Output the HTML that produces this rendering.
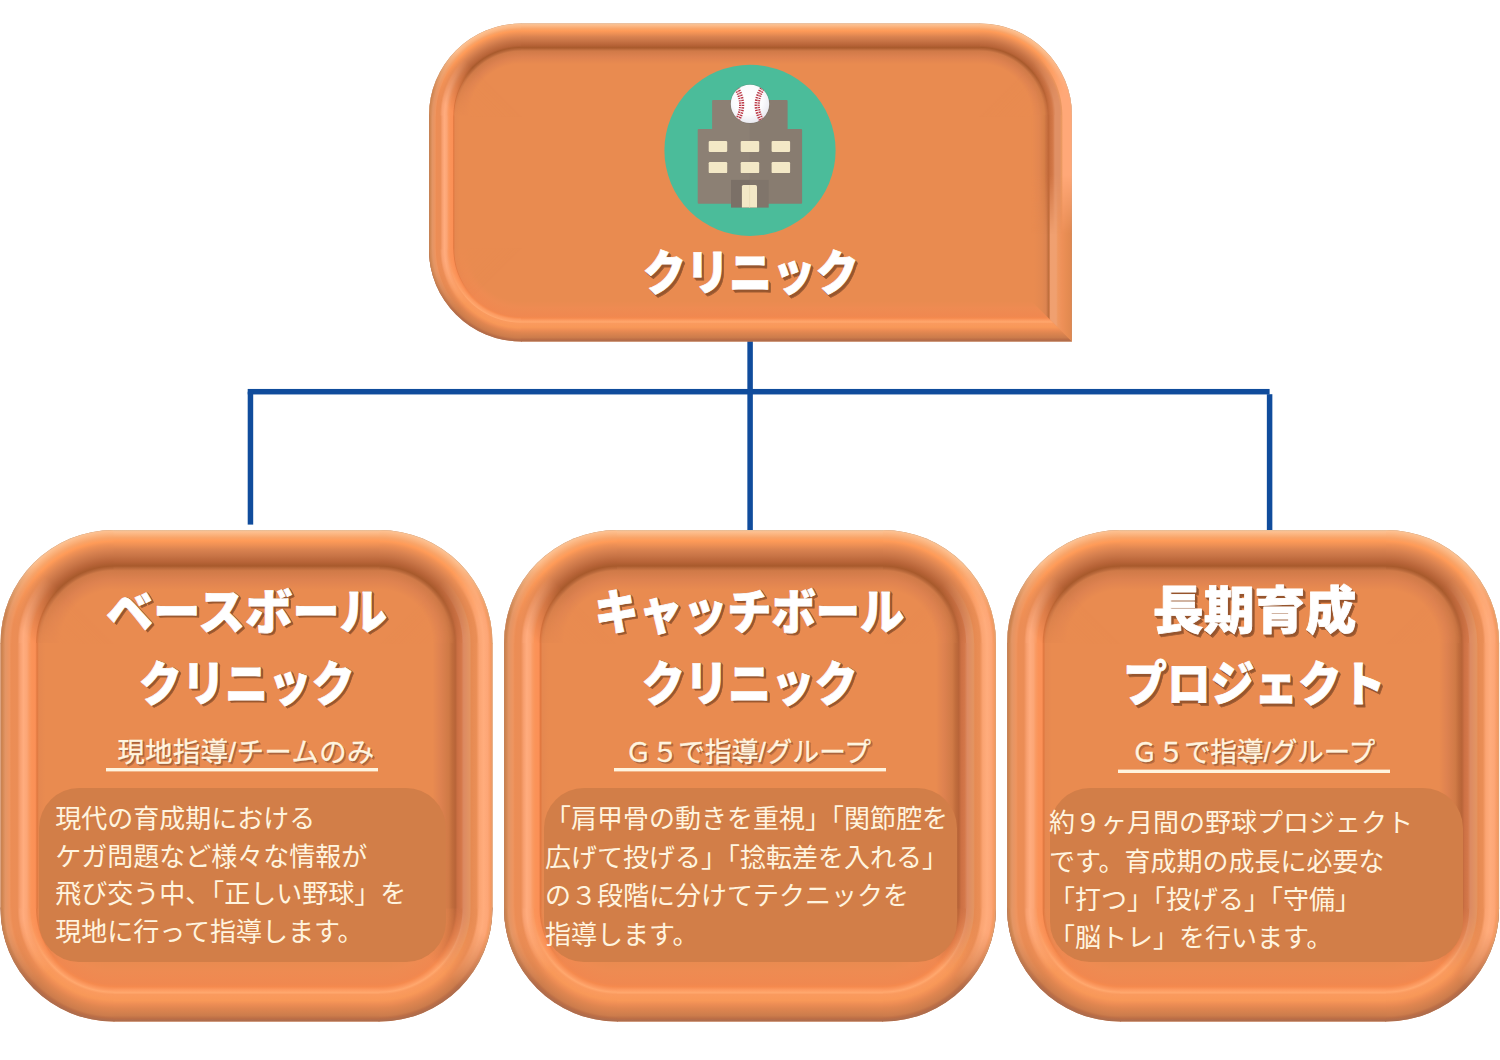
<!DOCTYPE html>
<html lang="ja">
<head>
<meta charset="utf-8">
<title>クリニック</title>
<style>
html,body{margin:0;padding:0;background:#fff}
body{width:1500px;height:1060px;position:relative;overflow:hidden;font-family:"Liberation Sans","Noto Sans CJK JP",sans-serif}
svg{position:absolute;left:0;top:0;display:block}
svg text{font-family:"Liberation Sans","Noto Sans CJK JP",sans-serif}
.hd{font-weight:900;stroke-width:0.8;stroke-linejoin:round}
.sb{font-weight:400;stroke-width:0.35;stroke-linejoin:round}
.bd{font-weight:400;font-size:26px;fill:#FFF4DF}
</style>
</head>
<body>
<svg width="1500" height="1060" viewBox="0 0 1500 1060">
<defs>
<linearGradient id="mgtl" x1="1" y1="0" x2="0" y2="1"><stop offset="0.5" stop-color="#000"/><stop offset="0.85" stop-color="#fff"/></linearGradient>
<mask id="mtl" maskContentUnits="objectBoundingBox"><rect width="1" height="1" fill="url(#mgtl)"/></mask>
<linearGradient id="mgtr" x1="0" y1="0" x2="1" y2="1"><stop offset="0.5" stop-color="#000"/><stop offset="0.85" stop-color="#fff"/></linearGradient>
<mask id="mtr" maskContentUnits="objectBoundingBox"><rect width="1" height="1" fill="url(#mgtr)"/></mask>
<linearGradient id="mgbl" x1="1" y1="1" x2="0" y2="0"><stop offset="0.5" stop-color="#000"/><stop offset="0.85" stop-color="#fff"/></linearGradient>
<mask id="mbl" maskContentUnits="objectBoundingBox"><rect width="1" height="1" fill="url(#mgbl)"/></mask>
<linearGradient id="mgbr" x1="0" y1="1" x2="1" y2="0"><stop offset="0.5" stop-color="#000"/><stop offset="0.85" stop-color="#fff"/></linearGradient>
<mask id="mbr" maskContentUnits="objectBoundingBox"><rect width="1" height="1" fill="url(#mgbr)"/></mask>
<linearGradient id="lt_top" x1="0" y1="0" x2="0" y2="1"><stop offset="0" stop-color="#E3BD98"/><stop offset="0.03" stop-color="#FDC090"/><stop offset="0.08" stop-color="#FBB27C"/><stop offset="0.13" stop-color="#F9A468"/><stop offset="0.18" stop-color="#FF9B58"/><stop offset="0.25" stop-color="#EE9055"/><stop offset="0.33" stop-color="#D98250"/><stop offset="0.43" stop-color="#C87446"/><stop offset="0.53" stop-color="#B86438"/><stop offset="0.6" stop-color="#A85A2C"/><stop offset="0.63" stop-color="#B8683A"/><stop offset="0.68" stop-color="#D07A48"/><stop offset="0.83" stop-color="#DE8250"/><stop offset="1" stop-color="#E98B50"/></linearGradient>
<linearGradient id="lb_bottom" x1="0" y1="1" x2="0" y2="0"><stop offset="0" stop-color="#A86C50"/><stop offset="0.05" stop-color="#BC6E46"/><stop offset="0.1" stop-color="#CC7C4C"/><stop offset="0.22" stop-color="#E08650"/><stop offset="0.28" stop-color="#EC8C54"/><stop offset="0.35" stop-color="#F89858"/><stop offset="0.45" stop-color="#FA9A5E"/><stop offset="0.48" stop-color="#FFA86E"/><stop offset="0.53" stop-color="#FC9A60"/><stop offset="0.58" stop-color="#F58A4E"/><stop offset="0.62" stop-color="#F08850"/><stop offset="0.83" stop-color="#EE8B52"/><stop offset="1" stop-color="#E98B50"/></linearGradient>
<linearGradient id="ll_left" x1="0" y1="0" x2="1" y2="0"><stop offset="0" stop-color="#C08058"/><stop offset="0.03" stop-color="#D08550"/><stop offset="0.08" stop-color="#E39565"/><stop offset="0.15" stop-color="#EE9560"/><stop offset="0.18" stop-color="#EC8D55"/><stop offset="0.28" stop-color="#EB8D56"/><stop offset="0.33" stop-color="#F8A070"/><stop offset="0.38" stop-color="#FFAC7E"/><stop offset="0.44" stop-color="#FCA676"/><stop offset="0.48" stop-color="#FA9A62"/><stop offset="0.52" stop-color="#FB9358"/><stop offset="0.58" stop-color="#FB9056"/><stop offset="0.61" stop-color="#E07840"/><stop offset="0.64" stop-color="#E58850"/><stop offset="0.75" stop-color="#E98B50"/><stop offset="1" stop-color="#E98B50"/></linearGradient>
<linearGradient id="lr_rightB" x1="1" y1="0" x2="0" y2="0"><stop offset="0" stop-color="#C89068"/><stop offset="0.02" stop-color="#E08850"/><stop offset="0.12" stop-color="#E68C52"/><stop offset="0.25" stop-color="#EE9058"/><stop offset="0.35" stop-color="#EF9860"/><stop offset="0.39" stop-color="#F0A070"/><stop offset="0.53" stop-color="#F0A070"/><stop offset="0.55" stop-color="#D88050"/><stop offset="0.58" stop-color="#C0703C"/><stop offset="0.6" stop-color="#C87444"/><stop offset="0.64" stop-color="#DC8450"/><stop offset="0.74" stop-color="#E38850"/><stop offset="0.94" stop-color="#E98B50"/><stop offset="0.99" stop-color="#E98B50"/></linearGradient>
<radialGradient id="rtop92"><stop offset="0.56" stop-color="#E98B50"/><stop offset="0.63" stop-color="#DE8250"/><stop offset="0.7" stop-color="#D07A48"/><stop offset="0.72" stop-color="#B8683A"/><stop offset="0.74" stop-color="#A85A2C"/><stop offset="0.76" stop-color="#B86438"/><stop offset="0.81" stop-color="#C87446"/><stop offset="0.85" stop-color="#D98250"/><stop offset="0.89" stop-color="#EE9055"/><stop offset="0.92" stop-color="#FF9B58"/><stop offset="0.94" stop-color="#F9A468"/><stop offset="0.96" stop-color="#FBB27C"/><stop offset="0.99" stop-color="#FDC090"/><stop offset="1" stop-color="#E3BD98"/></radialGradient>
<radialGradient id="c1" href="#rtop92" gradientUnits="userSpaceOnUse" cx="521" cy="115.5" r="92"/>
<radialGradient id="rleft92"><stop offset="0.56" stop-color="#E98B50"/><stop offset="0.67" stop-color="#E98B50"/><stop offset="0.72" stop-color="#E58850"/><stop offset="0.73" stop-color="#E07840"/><stop offset="0.74" stop-color="#FB9056"/><stop offset="0.77" stop-color="#FB9358"/><stop offset="0.79" stop-color="#FA9A62"/><stop offset="0.81" stop-color="#FCA676"/><stop offset="0.83" stop-color="#FFAC7E"/><stop offset="0.86" stop-color="#F8A070"/><stop offset="0.88" stop-color="#EB8D56"/><stop offset="0.92" stop-color="#EC8D55"/><stop offset="0.93" stop-color="#EE9560"/><stop offset="0.96" stop-color="#E39565"/><stop offset="0.99" stop-color="#D08550"/><stop offset="1" stop-color="#C08058"/></radialGradient>
<radialGradient id="c2" href="#rleft92" gradientUnits="userSpaceOnUse" cx="521" cy="115.5" r="92"/>
<radialGradient id="c3" href="#rtop92" gradientUnits="userSpaceOnUse" cx="980" cy="115.5" r="92"/>
<radialGradient id="rrightT92"><stop offset="0.57" stop-color="#E98B50"/><stop offset="0.64" stop-color="#E28650"/><stop offset="0.7" stop-color="#D88048"/><stop offset="0.73" stop-color="#C87040"/><stop offset="0.74" stop-color="#C06838"/><stop offset="0.76" stop-color="#CA7040"/><stop offset="0.79" stop-color="#D47A4A"/><stop offset="0.82" stop-color="#E09065"/><stop offset="0.87" stop-color="#E09065"/><stop offset="0.89" stop-color="#EA9860"/><stop offset="0.9" stop-color="#FFA878"/><stop offset="0.99" stop-color="#FFA878"/><stop offset="1" stop-color="#E0B090"/></radialGradient>
<radialGradient id="c4" href="#rrightT92" gradientUnits="userSpaceOnUse" cx="980" cy="115.5" r="92"/>
<radialGradient id="rbottom92"><stop offset="0.56" stop-color="#E98B50"/><stop offset="0.63" stop-color="#EE8B52"/><stop offset="0.73" stop-color="#F08850"/><stop offset="0.74" stop-color="#F58A4E"/><stop offset="0.76" stop-color="#FC9A60"/><stop offset="0.79" stop-color="#FFA86E"/><stop offset="0.8" stop-color="#FA9A5E"/><stop offset="0.85" stop-color="#F89858"/><stop offset="0.88" stop-color="#EC8C54"/><stop offset="0.9" stop-color="#E08650"/><stop offset="0.96" stop-color="#CC7C4C"/><stop offset="0.98" stop-color="#BC6E46"/><stop offset="1" stop-color="#A86C50"/></radialGradient>
<radialGradient id="c5" href="#rbottom92" gradientUnits="userSpaceOnUse" cx="521" cy="249.5" r="92"/>
<radialGradient id="c6" href="#rleft92" gradientUnits="userSpaceOnUse" cx="521" cy="249.5" r="92"/>
<linearGradient id="hfade" x1="0" y1="0" x2="0" y2="1"><stop offset="0.5" stop-color="#fff"/><stop offset="1" stop-color="#000"/></linearGradient>
<mask id="mhf" maskContentUnits="objectBoundingBox"><rect width="1" height="1" fill="url(#hfade)"/></mask>
<linearGradient id="lr_rightT" x1="1" y1="0" x2="0" y2="0"><stop offset="0" stop-color="#E0B090"/><stop offset="0.02" stop-color="#FFA878"/><stop offset="0.22" stop-color="#FFA878"/><stop offset="0.26" stop-color="#EA9860"/><stop offset="0.3" stop-color="#E09065"/><stop offset="0.42" stop-color="#E09065"/><stop offset="0.47" stop-color="#D47A4A"/><stop offset="0.54" stop-color="#CA7040"/><stop offset="0.58" stop-color="#C06838"/><stop offset="0.62" stop-color="#C87040"/><stop offset="0.69" stop-color="#D88048"/><stop offset="0.81" stop-color="#E28650"/><stop offset="0.99" stop-color="#E98B50"/></linearGradient>
<linearGradient id="lr_right" x1="1" y1="0" x2="0" y2="0"><stop offset="0" stop-color="#E0A070"/><stop offset="0.03" stop-color="#F69A62"/><stop offset="0.08" stop-color="#FDA676"/><stop offset="0.15" stop-color="#FFAC7C"/><stop offset="0.22" stop-color="#FBA472"/><stop offset="0.27" stop-color="#EA8E56"/><stop offset="0.35" stop-color="#E68A52"/><stop offset="0.38" stop-color="#E39462"/><stop offset="0.48" stop-color="#DC8A62"/><stop offset="0.52" stop-color="#D4784A"/><stop offset="0.58" stop-color="#CC7044"/><stop offset="0.62" stop-color="#B86438"/><stop offset="0.67" stop-color="#C06C3C"/><stop offset="0.73" stop-color="#D07A46"/><stop offset="0.87" stop-color="#DE8250"/><stop offset="1" stop-color="#E98B50"/></linearGradient>
<radialGradient id="rtop113"><stop offset="0.47" stop-color="#E98B50"/><stop offset="0.56" stop-color="#DE8250"/><stop offset="0.64" stop-color="#D07A48"/><stop offset="0.66" stop-color="#B8683A"/><stop offset="0.68" stop-color="#A85A2C"/><stop offset="0.72" stop-color="#B86438"/><stop offset="0.77" stop-color="#C87446"/><stop offset="0.82" stop-color="#D98250"/><stop offset="0.87" stop-color="#EE9055"/><stop offset="0.9" stop-color="#FF9B58"/><stop offset="0.93" stop-color="#F9A468"/><stop offset="0.96" stop-color="#FBB27C"/><stop offset="0.99" stop-color="#FDC090"/><stop offset="1" stop-color="#E3BD98"/></radialGradient>
<radialGradient id="c7" href="#rtop113" gradientUnits="userSpaceOnUse" cx="113.5" cy="643" r="113"/>
<radialGradient id="rleft113"><stop offset="0.47" stop-color="#E98B50"/><stop offset="0.6" stop-color="#E98B50"/><stop offset="0.66" stop-color="#E58850"/><stop offset="0.68" stop-color="#E07840"/><stop offset="0.69" stop-color="#FB9056"/><stop offset="0.73" stop-color="#FB9358"/><stop offset="0.74" stop-color="#FA9A62"/><stop offset="0.77" stop-color="#FCA676"/><stop offset="0.8" stop-color="#FFAC7E"/><stop offset="0.83" stop-color="#F8A070"/><stop offset="0.85" stop-color="#EB8D56"/><stop offset="0.9" stop-color="#EC8D55"/><stop offset="0.92" stop-color="#EE9560"/><stop offset="0.96" stop-color="#E39565"/><stop offset="0.98" stop-color="#D08550"/><stop offset="1" stop-color="#C08058"/></radialGradient>
<radialGradient id="c8" href="#rleft113" gradientUnits="userSpaceOnUse" cx="113.5" cy="643" r="113"/>
<radialGradient id="c9" href="#rtop113" gradientUnits="userSpaceOnUse" cx="379.5" cy="643" r="113"/>
<radialGradient id="rright113"><stop offset="0.47" stop-color="#E98B50"/><stop offset="0.54" stop-color="#DE8250"/><stop offset="0.61" stop-color="#D07A46"/><stop offset="0.65" stop-color="#C06C3C"/><stop offset="0.67" stop-color="#B86438"/><stop offset="0.69" stop-color="#CC7044"/><stop offset="0.73" stop-color="#D4784A"/><stop offset="0.74" stop-color="#DC8A62"/><stop offset="0.8" stop-color="#E39462"/><stop offset="0.81" stop-color="#E68A52"/><stop offset="0.86" stop-color="#EA8E56"/><stop offset="0.88" stop-color="#FBA472"/><stop offset="0.92" stop-color="#FFAC7C"/><stop offset="0.96" stop-color="#FDA676"/><stop offset="0.98" stop-color="#F69A62"/><stop offset="1" stop-color="#E0A070"/></radialGradient>
<radialGradient id="c10" href="#rright113" gradientUnits="userSpaceOnUse" cx="379.5" cy="643" r="113"/>
<radialGradient id="rbottom113"><stop offset="0.47" stop-color="#E98B50"/><stop offset="0.56" stop-color="#EE8B52"/><stop offset="0.67" stop-color="#F08850"/><stop offset="0.69" stop-color="#F58A4E"/><stop offset="0.72" stop-color="#FC9A60"/><stop offset="0.74" stop-color="#FFA86E"/><stop offset="0.76" stop-color="#FA9A5E"/><stop offset="0.81" stop-color="#F89858"/><stop offset="0.85" stop-color="#EC8C54"/><stop offset="0.88" stop-color="#E08650"/><stop offset="0.95" stop-color="#CC7C4C"/><stop offset="0.97" stop-color="#BC6E46"/><stop offset="1" stop-color="#A86C50"/></radialGradient>
<radialGradient id="c11" href="#rbottom113" gradientUnits="userSpaceOnUse" cx="113.5" cy="908.5" r="113"/>
<radialGradient id="c12" href="#rleft113" gradientUnits="userSpaceOnUse" cx="113.5" cy="908.5" r="113"/>
<radialGradient id="c13" href="#rbottom113" gradientUnits="userSpaceOnUse" cx="379.5" cy="908.5" r="113"/>
<radialGradient id="c14" href="#rright113" gradientUnits="userSpaceOnUse" cx="379.5" cy="908.5" r="113"/>
<radialGradient id="c15" href="#rtop113" gradientUnits="userSpaceOnUse" cx="617" cy="643" r="113"/>
<radialGradient id="c16" href="#rleft113" gradientUnits="userSpaceOnUse" cx="617" cy="643" r="113"/>
<radialGradient id="c17" href="#rtop113" gradientUnits="userSpaceOnUse" cx="883" cy="643" r="113"/>
<radialGradient id="c18" href="#rright113" gradientUnits="userSpaceOnUse" cx="883" cy="643" r="113"/>
<radialGradient id="c19" href="#rbottom113" gradientUnits="userSpaceOnUse" cx="617" cy="908.5" r="113"/>
<radialGradient id="c20" href="#rleft113" gradientUnits="userSpaceOnUse" cx="617" cy="908.5" r="113"/>
<radialGradient id="c21" href="#rbottom113" gradientUnits="userSpaceOnUse" cx="883" cy="908.5" r="113"/>
<radialGradient id="c22" href="#rright113" gradientUnits="userSpaceOnUse" cx="883" cy="908.5" r="113"/>
<radialGradient id="c23" href="#rtop113" gradientUnits="userSpaceOnUse" cx="1120.1" cy="643" r="113"/>
<radialGradient id="c24" href="#rleft113" gradientUnits="userSpaceOnUse" cx="1120.1" cy="643" r="113"/>
<radialGradient id="c25" href="#rtop113" gradientUnits="userSpaceOnUse" cx="1386.1" cy="643" r="113"/>
<radialGradient id="c26" href="#rright113" gradientUnits="userSpaceOnUse" cx="1386.1" cy="643" r="113"/>
<radialGradient id="c27" href="#rbottom113" gradientUnits="userSpaceOnUse" cx="1120.1" cy="908.5" r="113"/>
<radialGradient id="c28" href="#rleft113" gradientUnits="userSpaceOnUse" cx="1120.1" cy="908.5" r="113"/>
<radialGradient id="c29" href="#rbottom113" gradientUnits="userSpaceOnUse" cx="1386.1" cy="908.5" r="113"/>
<radialGradient id="c30" href="#rright113" gradientUnits="userSpaceOnUse" cx="1386.1" cy="908.5" r="113"/>
<radialGradient id="ball" cx="0.45" cy="0.4" r="0.65"><stop offset="0" stop-color="#FFFFFF"/><stop offset="0.6" stop-color="#FBFBFD"/><stop offset="1" stop-color="#E6E6EE"/></radialGradient>
<clipPath id="ballclip"><circle cx="750" cy="103.9" r="19.2"/></clipPath>
</defs>
<g fill="#104C9C">
<rect x="247.7" y="388.95" width="1021.9" height="5.5"/>
<rect x="747.35" y="340" width="5.5" height="190.5"/>
<rect x="247.7" y="391.7" width="5.5" height="132.9"/>
<rect x="1266.85" y="394.2" width="5.5" height="135.8"/>
</g>
<g><path d="M521 23.5H980A92 92 0 0 1 1072 115.5V341.5H521A92 92 0 0 1 429 249.5V115.5A92 92 0 0 1 521 23.5Z" fill="#E98B50"/><path d="M522 116.5L522 23.5L521 23.5A92 92 0 0 0 429 115.5L429 116.5Z" fill="url(#c1)"/><path d="M522 116.5L522 23.5L521 23.5A92 92 0 0 0 429 115.5L429 116.5Z" fill="url(#c2)" mask="url(#mtl)"/><path d="M979 116.5L979 23.5L980 23.5A92 92 0 0 1 1072 115.5L1072 116.5Z" fill="url(#c3)"/><path d="M979 116.5L979 23.5L980 23.5A92 92 0 0 1 1072 115.5L1072 116.5Z" fill="url(#c4)" mask="url(#mtr)"/><path d="M522 248.5L522 341.5L521 341.5A92 92 0 0 1 429 249.5L429 248.5Z" fill="url(#c5)"/><path d="M522 248.5L522 341.5L521 341.5A92 92 0 0 1 429 249.5L429 248.5Z" fill="url(#c6)" mask="url(#mbl)"/><path d="M521 23.5L980 23.5L980 64.04L521 64.04Z" fill="url(#lt_top)"/><path d="M521 341.5L1072 341.5L1031.46 300.96L521 300.96Z" fill="url(#lb_bottom)"/><path d="M429 115.5L429 249.5L469.54 249.5L469.54 115.5Z" fill="url(#ll_left)"/><path d="M1072 115.5L1072 341.5L1031.46 300.96L1031.46 115.5Z" fill="url(#lr_rightB)"/></g>
<rect x="1031.46" y="115" width="40.54" height="119.5" fill="url(#lr_rightT)" mask="url(#mhf)"/>
<g><path d="M113.5 530H379.5A113 113 0 0 1 492.5 643V908.5A113 113 0 0 1 379.5 1021.5H113.5A113 113 0 0 1 0.5 908.5V643A113 113 0 0 1 113.5 530Z" fill="#E98B50"/><path d="M114.5 644L114.5 530L113.5 530A113 113 0 0 0 0.5 643L0.5 644Z" fill="url(#c7)"/><path d="M114.5 644L114.5 530L113.5 530A113 113 0 0 0 0.5 643L0.5 644Z" fill="url(#c8)" mask="url(#mtl)"/><path d="M378.5 644L378.5 530L379.5 530A113 113 0 0 1 492.5 643L492.5 644Z" fill="url(#c9)"/><path d="M378.5 644L378.5 530L379.5 530A113 113 0 0 1 492.5 643L492.5 644Z" fill="url(#c10)" mask="url(#mtr)"/><path d="M114.5 907.5L114.5 1021.5L113.5 1021.5A113 113 0 0 1 0.5 908.5L0.5 907.5Z" fill="url(#c11)"/><path d="M114.5 907.5L114.5 1021.5L113.5 1021.5A113 113 0 0 1 0.5 908.5L0.5 907.5Z" fill="url(#c12)" mask="url(#mbl)"/><path d="M378.5 907.5L378.5 1021.5L379.5 1021.5A113 113 0 0 0 492.5 908.5L492.5 907.5Z" fill="url(#c13)"/><path d="M378.5 907.5L378.5 1021.5L379.5 1021.5A113 113 0 0 0 492.5 908.5L492.5 907.5Z" fill="url(#c14)" mask="url(#mbr)"/><path d="M113.5 530L379.5 530L379.5 590L113.5 590Z" fill="url(#lt_top)"/><path d="M113.5 1021.5L379.5 1021.5L379.5 961.5L113.5 961.5Z" fill="url(#lb_bottom)"/><path d="M0.5 643L0.5 908.5L60.5 908.5L60.5 643Z" fill="url(#ll_left)"/><path d="M492.5 643L492.5 908.5L432.5 908.5L432.5 643Z" fill="url(#lr_right)"/></g>
<rect x="39" y="788" width="407" height="174" rx="40" fill="#D27E48"/>
<rect x="106" y="768" width="272" height="3.4" fill="#FFF4DF"/>
<g><path d="M617 530H883A113 113 0 0 1 996 643V908.5A113 113 0 0 1 883 1021.5H617A113 113 0 0 1 504 908.5V643A113 113 0 0 1 617 530Z" fill="#E98B50"/><path d="M618 644L618 530L617 530A113 113 0 0 0 504 643L504 644Z" fill="url(#c15)"/><path d="M618 644L618 530L617 530A113 113 0 0 0 504 643L504 644Z" fill="url(#c16)" mask="url(#mtl)"/><path d="M882 644L882 530L883 530A113 113 0 0 1 996 643L996 644Z" fill="url(#c17)"/><path d="M882 644L882 530L883 530A113 113 0 0 1 996 643L996 644Z" fill="url(#c18)" mask="url(#mtr)"/><path d="M618 907.5L618 1021.5L617 1021.5A113 113 0 0 1 504 908.5L504 907.5Z" fill="url(#c19)"/><path d="M618 907.5L618 1021.5L617 1021.5A113 113 0 0 1 504 908.5L504 907.5Z" fill="url(#c20)" mask="url(#mbl)"/><path d="M882 907.5L882 1021.5L883 1021.5A113 113 0 0 0 996 908.5L996 907.5Z" fill="url(#c21)"/><path d="M882 907.5L882 1021.5L883 1021.5A113 113 0 0 0 996 908.5L996 907.5Z" fill="url(#c22)" mask="url(#mbr)"/><path d="M617 530L883 530L883 590L617 590Z" fill="url(#lt_top)"/><path d="M617 1021.5L883 1021.5L883 961.5L617 961.5Z" fill="url(#lb_bottom)"/><path d="M504 643L504 908.5L564 908.5L564 643Z" fill="url(#ll_left)"/><path d="M996 643L996 908.5L936 908.5L936 643Z" fill="url(#lr_right)"/></g>
<rect x="544" y="788" width="413" height="174" rx="40" fill="#D27E48"/>
<rect x="614" y="768" width="272" height="3.4" fill="#FFF4DF"/>
<g><path d="M1120.1 530H1386.1A113 113 0 0 1 1499.1 643V908.5A113 113 0 0 1 1386.1 1021.5H1120.1A113 113 0 0 1 1007.1 908.5V643A113 113 0 0 1 1120.1 530Z" fill="#E98B50"/><path d="M1121.1 644L1121.1 530L1120.1 530A113 113 0 0 0 1007.1 643L1007.1 644Z" fill="url(#c23)"/><path d="M1121.1 644L1121.1 530L1120.1 530A113 113 0 0 0 1007.1 643L1007.1 644Z" fill="url(#c24)" mask="url(#mtl)"/><path d="M1385.1 644L1385.1 530L1386.1 530A113 113 0 0 1 1499.1 643L1499.1 644Z" fill="url(#c25)"/><path d="M1385.1 644L1385.1 530L1386.1 530A113 113 0 0 1 1499.1 643L1499.1 644Z" fill="url(#c26)" mask="url(#mtr)"/><path d="M1121.1 907.5L1121.1 1021.5L1120.1 1021.5A113 113 0 0 1 1007.1 908.5L1007.1 907.5Z" fill="url(#c27)"/><path d="M1121.1 907.5L1121.1 1021.5L1120.1 1021.5A113 113 0 0 1 1007.1 908.5L1007.1 907.5Z" fill="url(#c28)" mask="url(#mbl)"/><path d="M1385.1 907.5L1385.1 1021.5L1386.1 1021.5A113 113 0 0 0 1499.1 908.5L1499.1 907.5Z" fill="url(#c29)"/><path d="M1385.1 907.5L1385.1 1021.5L1386.1 1021.5A113 113 0 0 0 1499.1 908.5L1499.1 907.5Z" fill="url(#c30)" mask="url(#mbr)"/><path d="M1120.1 530L1386.1 530L1386.1 590L1120.1 590Z" fill="url(#lt_top)"/><path d="M1120.1 1021.5L1386.1 1021.5L1386.1 961.5L1120.1 961.5Z" fill="url(#lb_bottom)"/><path d="M1007.1 643L1007.1 908.5L1067.1 908.5L1067.1 643Z" fill="url(#ll_left)"/><path d="M1499.1 643L1499.1 908.5L1439.1 908.5L1439.1 643Z" fill="url(#lr_right)"/></g>
<rect x="1050" y="788" width="413" height="174" rx="40" fill="#D27E48"/>
<rect x="1118" y="769.6" width="272" height="3.4" fill="#FFF4DF"/>
<g><circle cx="750" cy="150.4" r="85.6" fill="#4BBC9A"/><path d="M713.1 100.1H750.6V203.7H698.7a1 1 0 0 1-1-1V130a1 1 0 0 1 1-1H712.1V101.1a1 1 0 0 1 1-1Z" fill="#8C8074"/><path d="M749.7 100.1H786.6a1 1 0 0 1 1 1V129H801.1a1 1 0 0 1 1 1V202.7a1 1 0 0 1-1 1H749.7Z" fill="#887C70"/><rect x="708.7" y="140.9" width="18.5" height="11.1" rx="1.2" fill="#F3E8C6"/><rect x="740.7" y="140.9" width="18.5" height="11.1" rx="1.2" fill="#F3E8C6"/><rect x="771.6" y="140.9" width="18.5" height="11.1" rx="1.2" fill="#F3E8C6"/><rect x="708.7" y="162" width="18.5" height="11.1" rx="1.2" fill="#F3E8C6"/><rect x="740.7" y="162" width="18.5" height="11.1" rx="1.2" fill="#F3E8C6"/><rect x="771.6" y="162" width="18.5" height="11.1" rx="1.2" fill="#F3E8C6"/><rect x="731" y="179.9" width="19.6" height="27.7" fill="#7B7067"/><rect x="749.7" y="179.9" width="19" height="27.7" fill="#80756B"/><path d="M741.9 207.6V186.5a1.5 1.5 0 0 1 1.5-1.5H755.5a1.5 1.5 0 0 1 1.5 1.5V207.6Z" fill="#F3E8C6"/><rect x="749.2" y="185" width="0.9" height="22.6" fill="#E9DDB9"/><circle cx="750" cy="103.9" r="19.9" fill="#6E6A66" fill-opacity="0.28"/><circle cx="750" cy="103.9" r="19.2" fill="url(#ball)"/><g clip-path="url(#ballclip)" fill="none" stroke="#B8303E" stroke-width="5.2" stroke-dasharray="1.3 1.15"><path d="M735.2 86.5Q747.6 103.8 736.2 122.5"/><path d="M763.9 86.5Q751.0 103.8 762.9 122.5"/></g><g clip-path="url(#ballclip)" fill="none" stroke="#F4DADC" stroke-width="0.7"><path d="M735.2 86.5Q747.6 103.8 736.2 122.5"/><path d="M763.9 86.5Q751.0 103.8 762.9 122.5"/></g></g>
<g class="hd" font-size="48.3">
<text x="645.2" y="292.7" textLength="216" lengthAdjust="spacingAndGlyphs" fill="#9A5830" stroke="#9A5830" opacity="0.9">クリニック</text>
<text x="644.4" y="291.9" textLength="216" lengthAdjust="spacingAndGlyphs" fill="#96552E" stroke="#96552E">クリニック</text>
<text x="643.55" y="291.05" textLength="216" lengthAdjust="spacingAndGlyphs" fill="#96552E" stroke="#96552E">クリニック</text>
<text x="642.7" y="290.2" textLength="216" lengthAdjust="spacingAndGlyphs" fill="#FFFFFF" stroke="#FFFFFF">クリニック</text>
</g>
<g class="hd" font-size="48.3">
<text x="108.5" y="631" textLength="281" lengthAdjust="spacingAndGlyphs" fill="#9A5830" stroke="#9A5830" opacity="0.9">ベースボール</text>
<text x="107.7" y="630.2" textLength="281" lengthAdjust="spacingAndGlyphs" fill="#96552E" stroke="#96552E">ベースボール</text>
<text x="106.85" y="629.35" textLength="281" lengthAdjust="spacingAndGlyphs" fill="#96552E" stroke="#96552E">ベースボール</text>
<text x="106" y="628.5" textLength="281" lengthAdjust="spacingAndGlyphs" fill="#FFFFFF" stroke="#FFFFFF">ベースボール</text>
</g>
<g class="hd" font-size="48.3">
<text x="141.2" y="703" textLength="216" lengthAdjust="spacingAndGlyphs" fill="#9A5830" stroke="#9A5830" opacity="0.9">クリニック</text>
<text x="140.4" y="702.2" textLength="216" lengthAdjust="spacingAndGlyphs" fill="#96552E" stroke="#96552E">クリニック</text>
<text x="139.55" y="701.35" textLength="216" lengthAdjust="spacingAndGlyphs" fill="#96552E" stroke="#96552E">クリニック</text>
<text x="138.7" y="700.5" textLength="216" lengthAdjust="spacingAndGlyphs" fill="#FFFFFF" stroke="#FFFFFF">クリニック</text>
</g>
<g class="sb" font-size="27.3">
<text x="119.4" y="763.6" textLength="257" lengthAdjust="spacing" fill="#A05E3A" stroke="#A05E3A" opacity="0.6">現地指導/チームのみ</text>
<text x="118.4" y="762.6" textLength="257" lengthAdjust="spacing" fill="#A05E3A" stroke="#A05E3A" opacity="0.9">現地指導/チームのみ</text>
<text x="117.4" y="761.6" textLength="257" lengthAdjust="spacing" fill="#FFF4DF" stroke="#FFF4DF">現地指導/チームのみ</text>
</g>
<text class="bd" x="55.3" y="827.8">現代の育成期における</text>
<text class="bd" x="55.3" y="865.5">ケガ問題など様々な情報が</text>
<text class="bd" x="55.3" y="903.2">飛び交う中、「正しい野球」を</text>
<text class="bd" x="55.3" y="940.9">現地に行って指導します。</text>
<g class="hd" font-size="48.3">
<text x="596.9" y="631" textLength="310" lengthAdjust="spacingAndGlyphs" fill="#9A5830" stroke="#9A5830" opacity="0.9">キャッチボール</text>
<text x="596.1" y="630.2" textLength="310" lengthAdjust="spacingAndGlyphs" fill="#96552E" stroke="#96552E">キャッチボール</text>
<text x="595.25" y="629.35" textLength="310" lengthAdjust="spacingAndGlyphs" fill="#96552E" stroke="#96552E">キャッチボール</text>
<text x="594.4" y="628.5" textLength="310" lengthAdjust="spacingAndGlyphs" fill="#FFFFFF" stroke="#FFFFFF">キャッチボール</text>
</g>
<g class="hd" font-size="48.3">
<text x="644.2" y="703" textLength="216" lengthAdjust="spacingAndGlyphs" fill="#9A5830" stroke="#9A5830" opacity="0.9">クリニック</text>
<text x="643.4" y="702.2" textLength="216" lengthAdjust="spacingAndGlyphs" fill="#96552E" stroke="#96552E">クリニック</text>
<text x="642.55" y="701.35" textLength="216" lengthAdjust="spacingAndGlyphs" fill="#96552E" stroke="#96552E">クリニック</text>
<text x="641.7" y="700.5" textLength="216" lengthAdjust="spacingAndGlyphs" fill="#FFFFFF" stroke="#FFFFFF">クリニック</text>
</g>
<g class="sb" font-size="27.3">
<text x="627" y="763.6" textLength="246" lengthAdjust="spacingAndGlyphs" fill="#A05E3A" stroke="#A05E3A" opacity="0.6">Ｇ５で指導/グループ</text>
<text x="626" y="762.6" textLength="246" lengthAdjust="spacingAndGlyphs" fill="#A05E3A" stroke="#A05E3A" opacity="0.9">Ｇ５で指導/グループ</text>
<text x="625" y="761.6" textLength="246" lengthAdjust="spacingAndGlyphs" fill="#FFF4DF" stroke="#FFF4DF">Ｇ５で指導/グループ</text>
</g>
<text class="bd" x="545" y="827.8">「肩甲骨の動きを重視」「関節腔を</text>
<text class="bd" x="545" y="866.5">広げて投げる」「捻転差を入れる」</text>
<text class="bd" x="545" y="905.2">の３段階に分けてテクニックを</text>
<text class="bd" x="545" y="943.9">指導します。</text>
<g class="hd" font-size="50.9">
<text x="1155.24" y="631.8" fill="#9A5830" stroke="#9A5830" opacity="0.9">長期育成</text>
<text x="1154.44" y="631" fill="#96552E" stroke="#96552E">長期育成</text>
<text x="1153.59" y="630.15" fill="#96552E" stroke="#96552E">長期育成</text>
<text x="1152.74" y="629.3" fill="#FFFFFF" stroke="#FFFFFF">長期育成</text>
</g>
<g class="hd" font-size="48.2">
<text x="1125.8" y="703.5" textLength="262" lengthAdjust="spacingAndGlyphs" fill="#9A5830" stroke="#9A5830" opacity="0.9">プロジェクト</text>
<text x="1125" y="702.7" textLength="262" lengthAdjust="spacingAndGlyphs" fill="#96552E" stroke="#96552E">プロジェクト</text>
<text x="1124.15" y="701.85" textLength="262" lengthAdjust="spacingAndGlyphs" fill="#96552E" stroke="#96552E">プロジェクト</text>
<text x="1123.3" y="701" textLength="262" lengthAdjust="spacingAndGlyphs" fill="#FFFFFF" stroke="#FFFFFF">プロジェクト</text>
</g>
<g class="sb" font-size="27.3">
<text x="1133.2" y="763.6" textLength="244" lengthAdjust="spacingAndGlyphs" fill="#A05E3A" stroke="#A05E3A" opacity="0.6">Ｇ５で指導/グループ</text>
<text x="1132.2" y="762.6" textLength="244" lengthAdjust="spacingAndGlyphs" fill="#A05E3A" stroke="#A05E3A" opacity="0.9">Ｇ５で指導/グループ</text>
<text x="1131.2" y="761.6" textLength="244" lengthAdjust="spacingAndGlyphs" fill="#FFF4DF" stroke="#FFF4DF">Ｇ５で指導/グループ</text>
</g>
<text class="bd" x="1049" y="832.4">約９ヶ月間の野球プロジェクト</text>
<text class="bd" x="1049" y="870.5">です。育成期の成長に必要な</text>
<text class="bd" x="1049" y="908.6">「打つ」「投げる」「守備」</text>
<text class="bd" x="1049" y="946.7">「脳トレ」を行います。</text>
</svg>
</body>
</html>
